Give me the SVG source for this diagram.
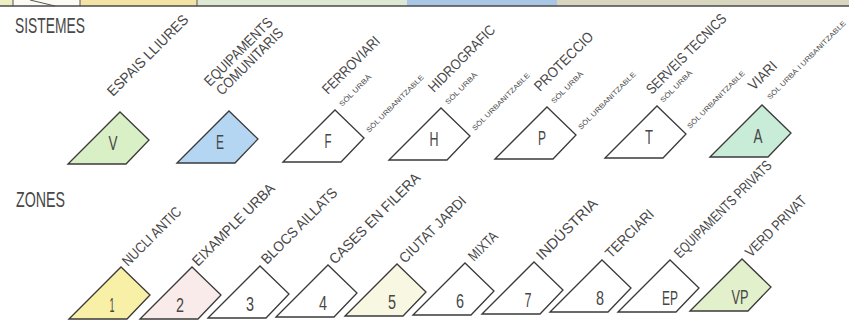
<svg xmlns="http://www.w3.org/2000/svg" xmlns:xlink="http://www.w3.org/1999/xlink" width="849" height="320" viewBox="0 0 849 320">
<style>
text{font-family:"Liberation Sans",Arial,sans-serif;fill:#474747}
.tag{stroke:#3a3a3a;stroke-width:1.3;stroke-linejoin:miter}
.h{font-size:22px}
.lab{font-size:14.5px}
.sm{font-size:7px}
.let{font-size:20px;text-anchor:middle}
.w{fill:#ffffff}
</style>
<defs>
<polygon id="shape" points="-52,52 0,0 29,28 6,52"/>
</defs>
<g id="map-edge">
<rect x="0" y="0" width="849" height="6" fill="#e6ead0"/>
<rect x="0" y="0" width="13" height="6" fill="#eef0c4"/>
<rect x="13" y="0" width="67" height="6" fill="#fbfbf4"/>
<rect x="80" y="0" width="117" height="6" fill="#f3e4a6"/>
<rect x="197" y="0" width="210" height="6" fill="#dde9d2"/>
<rect x="407" y="0" width="150" height="6" fill="#a9c6e4"/>
<rect x="557" y="0" width="292" height="6" fill="#d9d6bf"/>
<line x1="30" y1="0" x2="55" y2="6" stroke="#555" stroke-width="1"/>
<line x1="13" y1="0" x2="13" y2="6" stroke="#555" stroke-width="1"/>
<line x1="80" y1="0" x2="80" y2="6" stroke="#555" stroke-width="1"/>
<line x1="197" y1="0" x2="197" y2="6" stroke="#555" stroke-width="1"/>
<line x1="0" y1="6" x2="849" y2="6" stroke="#4a4a4a" stroke-width="1.5"/>
</g>
<g id="connectors"></g>
<text id="title-sistemes" class="h" x="15" y="33" textLength="70" lengthAdjust="spacingAndGlyphs">SISTEMES</text>
<text id="title-zones" class="h" x="16" y="207" textLength="49" lengthAdjust="spacingAndGlyphs">ZONES</text>

<g id="sys-V">
<use href="#shape" x="120" y="112" class="tag" fill="#d9f0c6"/>
<text class="let" x="113" y="150" textLength="9" lengthAdjust="spacingAndGlyphs">V</text>
<text class="lab" transform="translate(113,97) rotate(-45)" textLength="108" lengthAdjust="spacingAndGlyphs">ESPAIS LLIURES</text>
</g>
<g id="sys-E">
<use href="#shape" x="229" y="111" class="tag" fill="#b4d6f2"/>
<text class="let" x="220" y="149" textLength="8" lengthAdjust="spacingAndGlyphs">E</text>
<text class="lab" transform="translate(210,87) rotate(-45)" textLength="90" lengthAdjust="spacingAndGlyphs">EQUIPAMENTS</text>
<text class="lab" transform="translate(222,96) rotate(-45)" textLength="88" lengthAdjust="spacingAndGlyphs">COMUNITARIS</text>
</g>
<g id="sys-F">
<use href="#shape" x="335" y="110" class="tag w"/>
<text class="let" x="328" y="148" textLength="7" lengthAdjust="spacingAndGlyphs">F</text>
<text class="lab" transform="translate(328,95) rotate(-45)" textLength="75" lengthAdjust="spacingAndGlyphs">FERROVIARI</text>
<text class="sm" transform="translate(342,107) rotate(-45)" textLength="42" lengthAdjust="spacingAndGlyphs">SÒL URBÀ</text>
<text class="sm" transform="translate(369,133) rotate(-45)" textLength="78" lengthAdjust="spacingAndGlyphs">SÒL URBANITZABLE</text>
</g>
<g id="sys-H">
<use href="#shape" x="441" y="108" class="tag w"/>
<text class="let" x="434" y="146" textLength="9" lengthAdjust="spacingAndGlyphs">H</text>
<text class="lab" transform="translate(434,93) rotate(-45)" textLength="88" lengthAdjust="spacingAndGlyphs">HIDROGRAFIC</text>
<text class="sm" transform="translate(448,105) rotate(-45)" textLength="42" lengthAdjust="spacingAndGlyphs">SÒL URBÀ</text>
<text class="sm" transform="translate(475,131) rotate(-45)" textLength="78" lengthAdjust="spacingAndGlyphs">SÒL URBANITZABLE</text>
</g>
<g id="sys-P">
<use href="#shape" x="547" y="107" class="tag w"/>
<text class="let" x="542" y="145" textLength="8" lengthAdjust="spacingAndGlyphs">P</text>
<text class="lab" transform="translate(540,92) rotate(-45)" textLength="77" lengthAdjust="spacingAndGlyphs">PROTECCIO</text>
<text class="sm" transform="translate(554,104) rotate(-45)" textLength="42" lengthAdjust="spacingAndGlyphs">SÒL URBÀ</text>
<text class="sm" transform="translate(581,130) rotate(-45)" textLength="78" lengthAdjust="spacingAndGlyphs">SÒL URBANITZABLE</text>
</g>
<g id="sys-T">
<use href="#shape" x="657" y="106" class="tag w"/>
<text class="let" x="649" y="144" textLength="8" lengthAdjust="spacingAndGlyphs">T</text>
<text class="lab" transform="translate(652,95) rotate(-45) scale(0.82,1)">SERVEIS TECNICS</text>
<text class="sm" transform="translate(663,103) rotate(-45)" textLength="42" lengthAdjust="spacingAndGlyphs">SÒL URBÀ</text>
<text class="sm" transform="translate(690,129) rotate(-45)" textLength="78" lengthAdjust="spacingAndGlyphs">SÒL URBANITZABLE</text>
</g>
<g id="sys-A">
<use href="#shape" x="762" y="105" class="tag" fill="#c9ecd9"/>
<text class="let" x="758" y="143" textLength="9" lengthAdjust="spacingAndGlyphs">A</text>
<text class="lab" transform="translate(754,91) rotate(-45)" textLength="34" lengthAdjust="spacingAndGlyphs">VIARI</text>
<text class="sm" transform="translate(770,100) rotate(-45)" textLength="108" lengthAdjust="spacingAndGlyphs">SÒL URBÀ I URBANITZABLE</text>
</g>

<g id="zone-1">
<use href="#shape" x="121" y="267" class="tag" fill="#f8f0a6"/>
<text class="let" x="112" y="312" textLength="5" lengthAdjust="spacingAndGlyphs">1</text>
<text class="lab" transform="translate(128,267) rotate(-45)" textLength="77" lengthAdjust="spacingAndGlyphs">NUCLI ANTIC</text>
</g>
<g id="zone-2">
<use href="#shape" x="192" y="267" class="tag" fill="#f9ebea"/>
<text class="let" x="180" y="312" textLength="8" lengthAdjust="spacingAndGlyphs">2</text>
<text class="lab" transform="translate(198,267) rotate(-45)" textLength="110" lengthAdjust="spacingAndGlyphs">EIXAMPLE URBA</text>
</g>
<g id="zone-3">
<use href="#shape" x="260" y="266" class="tag w"/>
<text class="let" x="250" y="311" textLength="8" lengthAdjust="spacingAndGlyphs">3</text>
<text class="lab" transform="translate(267,265) rotate(-45)" textLength="101" lengthAdjust="spacingAndGlyphs">BLOCS AILLATS</text>
</g>
<g id="zone-4">
<use href="#shape" x="328" y="265" class="tag w"/>
<text class="let" x="323" y="310" textLength="8" lengthAdjust="spacingAndGlyphs">4</text>
<text class="lab" transform="translate(335,265) rotate(-45)" textLength="122" lengthAdjust="spacingAndGlyphs">CASES EN FILERA</text>
</g>
<g id="zone-5">
<use href="#shape" x="397" y="264" class="tag" fill="#f8f8e2"/>
<text class="let" x="392" y="309" textLength="8" lengthAdjust="spacingAndGlyphs">5</text>
<text class="lab" transform="translate(405,264) rotate(-45)" textLength="88" lengthAdjust="spacingAndGlyphs">CIUTAT JARDI</text>
</g>
<g id="zone-6">
<use href="#shape" x="465" y="263" class="tag w"/>
<text class="let" x="460" y="308" textLength="8" lengthAdjust="spacingAndGlyphs">6</text>
<text class="lab" transform="translate(474,262) rotate(-45)" textLength="35" lengthAdjust="spacingAndGlyphs">MIXTA</text>
</g>
<g id="zone-7">
<use href="#shape" x="534" y="262" class="tag w"/>
<text class="let" x="528" y="307" textLength="7" lengthAdjust="spacingAndGlyphs">7</text>
<text class="lab" transform="translate(542,261) rotate(-45)" textLength="80" lengthAdjust="spacingAndGlyphs">INDÚSTRIA</text>
</g>
<g id="zone-8">
<use href="#shape" x="602" y="260" class="tag w"/>
<text class="let" x="600" y="305" textLength="8" lengthAdjust="spacingAndGlyphs">8</text>
<text class="lab" transform="translate(611,259) rotate(-45)" textLength="62" lengthAdjust="spacingAndGlyphs">TERCIARI</text>
</g>
<g id="zone-EP">
<use href="#shape" x="670" y="260" class="tag w"/>
<text class="let" x="670" y="305" textLength="16" lengthAdjust="spacingAndGlyphs">EP</text>
<text class="lab" transform="translate(680,259) rotate(-45)" textLength="131" lengthAdjust="spacingAndGlyphs">EQUIPAMENTS PRIVATS</text>
</g>
<g id="zone-VP">
<use href="#shape" x="742" y="259" class="tag" fill="#e2f1cb"/>
<text class="let" x="740" y="304" textLength="17" lengthAdjust="spacingAndGlyphs">VP</text>
<text class="lab" transform="translate(751,258) rotate(-45)" textLength="80" lengthAdjust="spacingAndGlyphs">VERD PRIVAT</text>
</g>
</svg>
